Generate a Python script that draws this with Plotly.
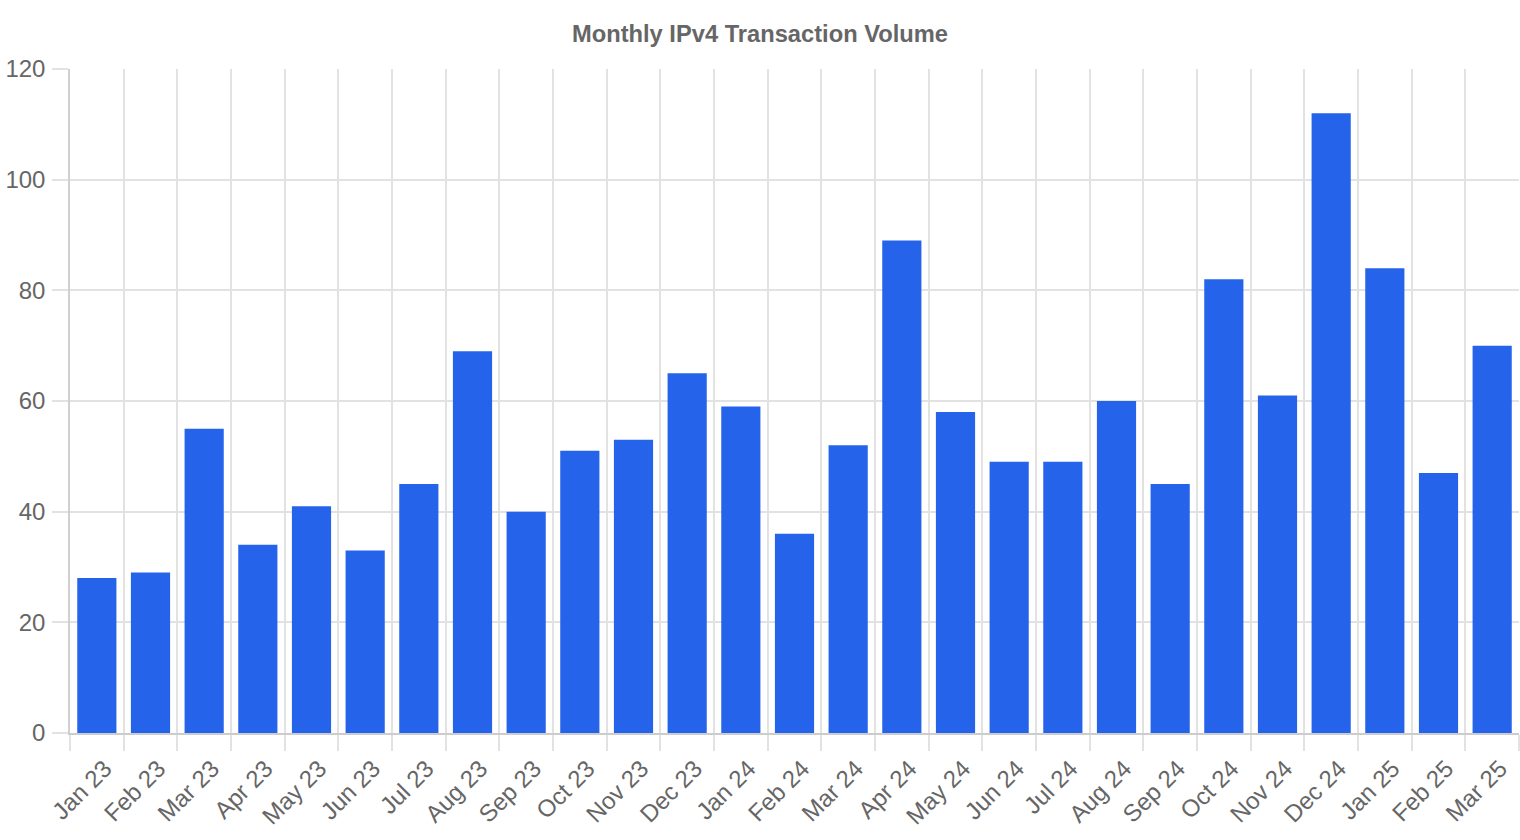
import plotly.graph_objects as go

months = ["Jan 23", "Feb 23", "Mar 23", "Apr 23", "May 23", "Jun 23", "Jul 23", "Aug 23", "Sep 23",
          "Oct 23", "Nov 23", "Dec 23", "Jan 24", "Feb 24", "Mar 24", "Apr 24", "May 24", "Jun 24",
          "Jul 24", "Aug 24", "Sep 24", "Oct 24", "Nov 24", "Dec 24", "Jan 25", "Feb 25", "Mar 25"]
volumes = [28, 29, 55, 34, 41, 33, 45, 69, 40, 51, 53, 65, 59, 36, 52, 89, 58, 49, 49, 60, 45,
           82, 61, 112, 84, 47, 70]
y_ticks = [0, 20, 40, 60, 80, 100, 120]

fig = go.Figure(go.Bar(
    x=months, y=volumes,
    marker=dict(color="#2563eb", line=dict(width=0)),
))

fig.update_layout(
    width=1520, height=840,
    margin=dict(l=70, r=1, t=69, b=107),
    paper_bgcolor="white", plot_bgcolor="white",
    bargap=0.27,
    showlegend=False,
    font=dict(family="Liberation Sans, Arial, sans-serif", color="#666666", size=18),
    title=dict(text="<b>Monthly IPv4 Transaction Volume</b>", x=0.5, xanchor="center",
               y=1 - 34 / 840, yanchor="middle",
               font=dict(size=23.7, color="#666666")),
)
fig.update_xaxes(
    type="category", tickson="boundaries", showgrid=True, gridcolor="#e2e2e2", gridwidth=1.5,
    ticks="outside", ticklen=16, tickcolor="#e2e2e2", tickwidth=1.5, tickangle=-45,
    ticklabelshift=8, ticklabelstandoff=10,
    showline=True, linecolor="#cccccc", linewidth=2,
    tickfont=dict(size=24, color="#666666"),
)
fig.update_yaxes(
    range=[0, 120], tickvals=y_ticks, showgrid=True, gridcolor="#e2e2e2", gridwidth=1.5,
    ticks="outside", ticklen=16, tickcolor="#e2e2e2", tickwidth=1.5, ticklabelstandoff=2,
    showline=True, linecolor="#d0d0d0", linewidth=1.5, zeroline=False,
    tickfont=dict(size=24, color="#666666"),
)

fig.write_html("out.html")
